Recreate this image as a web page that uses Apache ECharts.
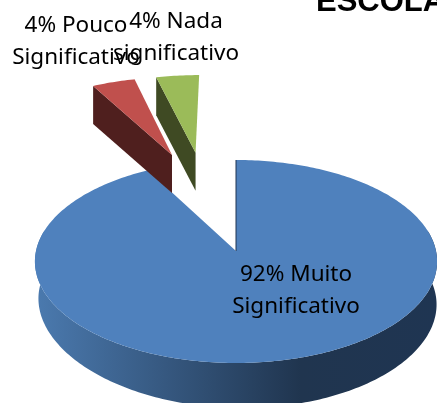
<!DOCTYPE html>
<html lang="pt">

<head>
  <meta charset="UTF-8">
  <title>ESCOLA</title>
  <script src="https://cdn.jsdelivr.net/npm/echarts@6/dist/echarts.min.js"></script>
  <style>
    * {
      margin: 0;
      padding: 0;
      box-sizing: border-box;
    }

    body {
      background: #fff;
      overflow: hidden;
    }

    #chart {
      width: 437px;
      height: 403px;
    }
  </style>
</head>

<body>
  <div id="chart"></div>

  <script>
    const titleText = 'ESCOLA';
    const categories = ['Muito\nSignificativo', 'Pouco\nSignificativo', 'Nada\nsignificativo'];
    const values = [92, 4, 4];

    // per slice look, in the same order as the values
    const topColors = ['#4f81bd', '#c0504d', '#9bbb59'];
    const wallColors = ['#1f3552', '#4f1f1e', '#3f4a23'];
    const explode = [[0, 0], [-0.355, -1.061], [-0.225, -1.09]]; // in pie radii
    const sliceScale = [1, 1.05, 1.05];
    const labelPos = [[296, 291], [76, 42], [176, 38]];

    // perspective of the tilted disc
    const cx = 236;
    const cy = 251;
    const radiusX = 200;
    const radiusY = 100.4;
    const persp = 0.1034;

    function project(u, v) {
      const d = 1 - persp * v;
      return [cx + radiusX * u / d, cy + radiusY * v / d];
    }

    // bottom rim of the big slice, a bit off the top rim
    function dropFront(u, v) {
      const d = 1 - persp * v;
      return [cx + 1.5 + (radiusX - 2) * u / d, cy + radiusY * v / d + 40 + 5 * v * v + 3 * u];
    }

    function dropCut(p) {
      return [p[0], p[1] + 38];
    }

    function rim(deg, i) {
      const a = deg * Math.PI / 180;
      return [explode[i][0] + sliceScale[i] * Math.sin(a), explode[i][1] - sliceScale[i] * Math.cos(a)];
    }

    function arc(from, to, i, fn) {
      const pts = [];
      const step = to > from ? 1 : -1;
      for (let d = from; step > 0 ? d < to : d > to; d += step) {
        const r = rim(d, i);
        pts.push(fn(r[0], r[1]));
      }
      const r = rim(to, i);
      pts.push(fn(r[0], r[1]));
      return pts;
    }

    const total = values.reduce((a, b) => a + b, 0);

    function renderSlice(params, api) {
      const i = params.dataIndex;
      const value = api.value(0);
      let start = 0;
      for (let k = 0; k < i; k++) {
        start += values[k] / total * 360;
      }
      const end = start + value / total * 360;
      const tip = project(explode[i][0], explode[i][1]);
      const children = [];

      if (i === 0) {
        // front wall of the big slice
        const front = arc(78, 282, i, project).concat(arc(282, 78, i, dropFront));
        children.push({
          type: 'polygon',
          shape: { points: front },
          style: {
            fill: new echarts.graphic.LinearGradient(0, 0, 1, 0, [
              { offset: 0, color: '#4b7aaf' },
              { offset: 0.66, color: '#20354f' },
              { offset: 1, color: '#1f3552' }
            ])
          }
        });
      } else {
        // cut face seen on the left side of the small slices
        const r = rim(start, i);
        const edge = project(r[0], r[1]);
        children.push({
          type: 'polygon',
          shape: { points: [tip, edge, dropCut(edge), dropCut(tip)] },
          style: { fill: wallColors[i] }
        });
      }

      children.push({
        type: 'polygon',
        shape: { points: [tip].concat(arc(start, end, i, project)) },
        style: { fill: topColors[i] }
      });

      if (i === 0) {
        const r = rim(0, i);
        children.push({
          type: 'polyline',
          shape: { points: [tip, project(r[0], r[1])] },
          style: { stroke: wallColors[0], lineWidth: 1, fill: null }
        });
      }

      children.push({
        type: 'text',
        z2: 10,
        style: {
          text: value + '% ' + categories[i],
          x: labelPos[i][0],
          y: labelPos[i][1],
          align: 'center',
          verticalAlign: 'middle',
          fontFamily: '"Noto Sans"',
          fontSize: 22.5,
          lineHeight: 32,
          fill: '#000'
        }
      });

      return { type: 'group', children: children };
    }

    const myChart = echarts.init(document.getElementById('chart'));

    myChart.setOption({
      animation: false,
      backgroundColor: '#fff',
      title: {
        text: titleText,
        left: 316,
        top: -13,
        padding: 0,
        textStyle: {
          fontFamily: '"Liberation Sans"',
          fontSize: 31,
          fontWeight: 'bold',
          color: '#000'
        }
      },
      series: [{
        type: 'custom',
        coordinateSystem: 'none',
        renderItem: renderSlice,
        data: values.map(v => [v])
      }]
    });
  </script>
</body>

</html>
